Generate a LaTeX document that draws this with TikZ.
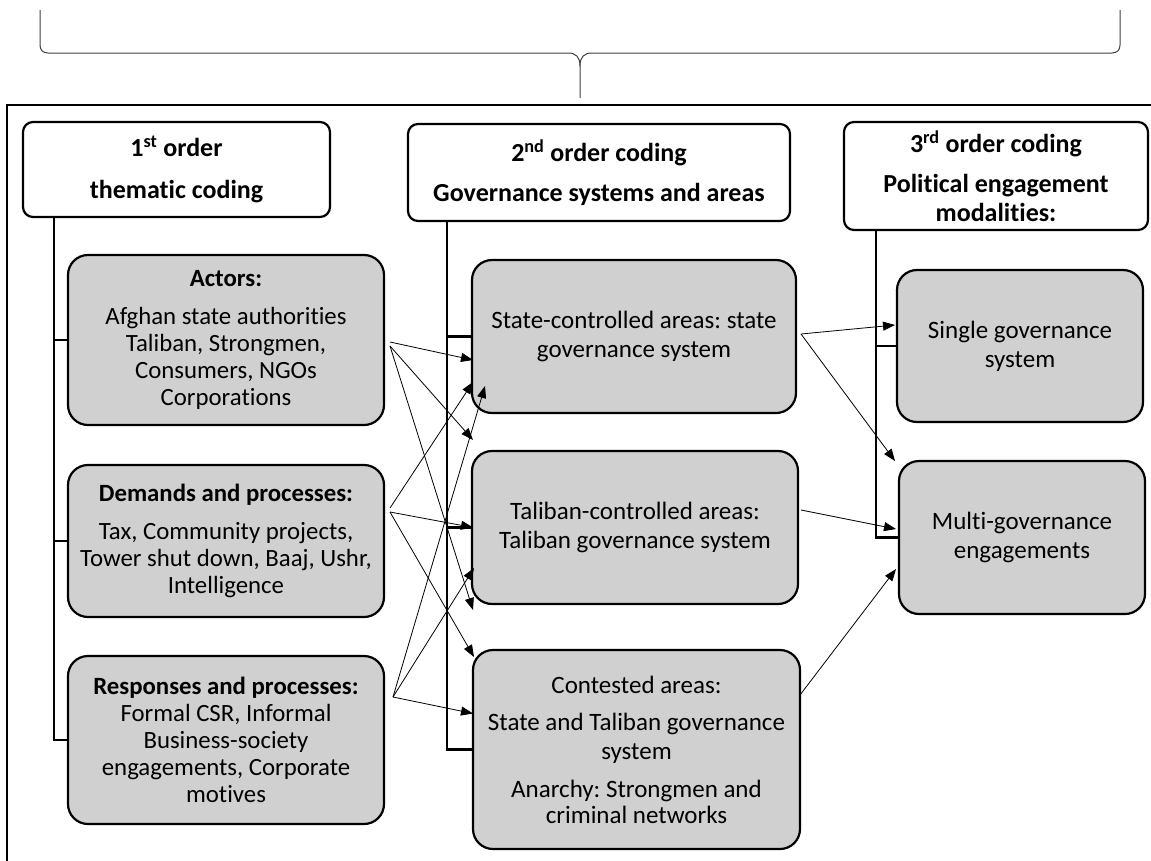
\documentclass[tikz,border=0pt]{standalone}
\usepackage{fontspec}
\setmainfont{Carlito}[Ligatures=NoCommon]
\usetikzlibrary{arrows.meta,calc}
\definecolor{boxgray}{RGB}{208,208,208}
\frenchspacing
\begin{document}
\frenchspacing
\begin{tikzpicture}[x=1pt,y=-1pt,
  hdr/.style={draw=black, line width=2.2pt, rounded corners=10pt, fill=white, align=center, inner sep=0pt, outer sep=0pt, font=\frenchspacing\bfseries\fontsize{26}{29}\selectfont},
  gbox/.style={draw=black, line width=2.2pt, rounded corners=20pt, fill=boxgray, align=center, inner sep=0pt, outer sep=0pt, font=\frenchspacing\fontsize{24.8}{27}\selectfont},
  mbox/.style={gbox, font=\frenchspacing\fontsize{25}{29}\selectfont},
  trunk/.style={line width=2.2pt},
  arr/.style={line width=0.8pt, -{Triangle[length=12pt,width=9pt]}},
  bracepath/.style={line width=1pt, draw=black!75}]
\useasboundingbox (0,0) rectangle (1151,860);
\clip (0,0) rectangle (1151,860);
\fill[white] (0,0) rectangle (1151,860);

% brace
\draw[bracepath] (40,10) -- (40,45) .. controls (40,50) and (43,53) .. (48,53) -- (568,53) .. controls (576,53) and (580,57) .. (580,66) -- (580,98);
\draw[bracepath] (1120,10) -- (1120,45) .. controls (1120,50) and (1117,53) .. (1112,53) -- (592,53) .. controls (584,53) and (580,57) .. (580,66);

% outer frame
\draw[line width=2.4pt] (7,870) -- (7,105) -- (1160,105);

% headers
\node[hdr, minimum width=307pt, minimum height=95pt] (h1) at (176.5,169.5) {1\textsuperscript{st} order\\[13pt]thematic coding};
\node[hdr, minimum width=382pt, minimum height=97pt] (h2) at (599,172.5) {2\textsuperscript{nd} order coding\\[11pt]Governance systems and areas};
\node[hdr, minimum width=304pt, minimum height=108pt] (h3) at (996,176) {3\textsuperscript{rd} order coding\\[11pt]Political engagement\\modalities:};

% first order boxes
\node[gbox, minimum width=316pt, minimum height=170pt] (actors) at (226,340) {\textbf{Actors:}\\[11pt]Afghan state authorities\\Taliban, Strongmen,\\Consumers, NGOs\\Corporations};
\node[gbox, minimum width=316pt, minimum height=152pt] (demands) at (226,541) {\textbf{Demands and processes:}\\[11pt]Tax, Community projects,\\Tower shut down, Baaj, Ushr,\\Intelligence};
\node[gbox, minimum width=316pt, minimum height=168pt] (responses) at (226,740) {\textbf{Responses and processes:}\\Formal CSR, Informal\\Business-society\\engagements, Corporate\\motives};

% second order boxes
\node[mbox, minimum width=324pt, minimum height=153pt] (state) at (634,336.5) {State-controlled areas: state\\governance system};
\node[mbox, minimum width=326pt, minimum height=153pt] (taliban) at (635,527.5) {Taliban-controlled areas:\\Taliban governance system};
\node[mbox, minimum width=327pt, minimum height=199pt] (contested) at (636.5,749.5) {Contested areas:\\[8pt]State and Taliban governance\\system\\[9pt]Anarchy: Strongmen and\\[-3pt]criminal networks};

% third order boxes
\node[mbox, minimum width=246pt, minimum height=152pt] (single) at (1020,346) {Single governance\\system};
\node[mbox, minimum width=246pt, minimum height=153pt] (multi) at (1022,537.5) {Multi-governance\\engagements};

% trunks
\coordinate (t1) at ($(h1.south west)+(31,0)$);
\draw[trunk] (t1) |- (responses.west);
\draw[trunk] (t1 |- actors.west) -- (actors.west);
\draw[trunk] (t1 |- demands.west) -- (demands.west);

\coordinate (t2) at ($(h2.south west)+(39,0)$);
\draw[trunk] (t2) |- (contested.west);
\draw[trunk] (t2 |- state.west) -- (state.west);
\draw[trunk] (t2 |- taliban.west) -- (taliban.west);

\coordinate (t3) at ($(h3.south west)+(32,0)$);
\draw[trunk] (t3) |- (multi.west);
\draw[trunk] (t3 |- single.west) -- (single.west);

% arrow origins
\coordinate (aA1) at ($(actors.east)+(6,2)$);
\coordinate (aA2) at ($(actors.east)+(6,6)$);
\coordinate (aD1) at ($(demands.east)+(6,-33)$);
\coordinate (aD2) at ($(demands.east)+(6,-29)$);
\coordinate (aR) at ($(responses.east)+(9,-43)$);
\coordinate (aS) at ($(state.east)+(5,-2.5)$);
\coordinate (aT) at ($(taliban.east)+(3,-17.5)$);
\coordinate (aC) at ($(contested.east)+(0,-54.5)$);

% first -> second order
\draw[arr] (aA1) -- ($(state.west)+(1,23.5)$);
\draw[arr] (aA2) -- ($(taliban.north west)+(1,-11)$);
\draw[arr] (aA2) -- ($(taliban.south west)+(1,6)$);
\draw[arr] (aD1) -- ($(state.south west)+(1,-31)$);
\draw[arr] (aD2) -- ($(taliban.west)+(1,0)$);
\draw[arr] (aD2) -- ($(contested.north west)+(1,7)$);
\draw[arr] (aR) -- ($(state.south west)+(13,-27)$);
\draw[arr] (aR) -- ($(taliban.south west)+(2,-36)$);
\draw[arr] (aR) -- ($(contested.west)+(0,-36)$);

% second -> third order
\draw[arr] (aS) -- ($(single.west)+(-2,-21)$);
\draw[arr] (aS) -- ($(multi.north west)+(-4,0)$);
\draw[arr] (aT) -- ($(multi.west)+(-3,-8.5)$);
\draw[arr] (aC) -- ($(multi.west)+(-3,31.5)$);
\end{tikzpicture}
\end{document}
